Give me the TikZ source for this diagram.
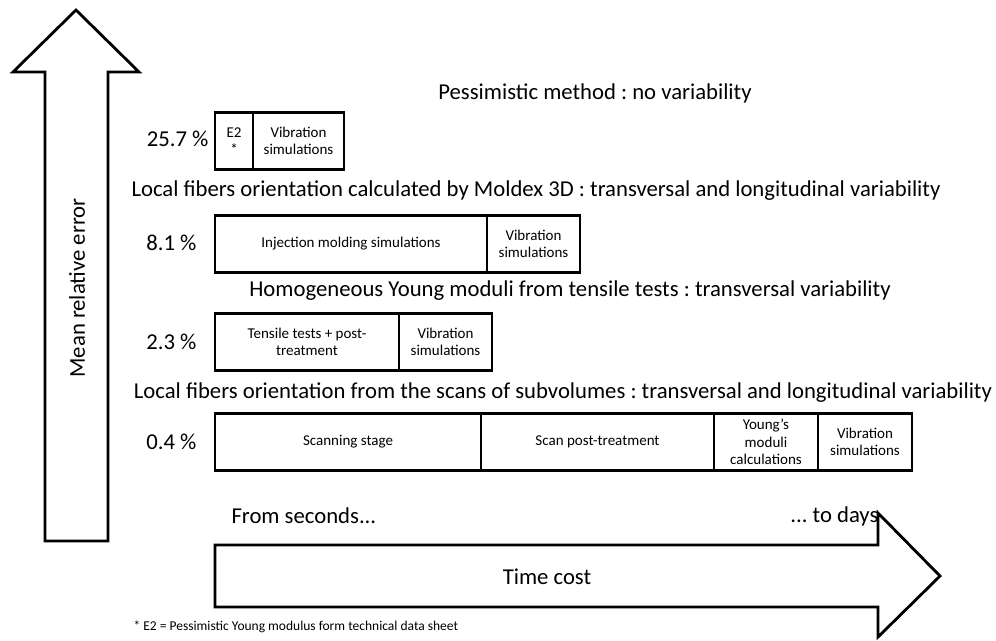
\documentclass[tikz,border=0pt]{standalone}
\usepackage{fontspec}
\setmainfont{Carlito}
\frenchspacing

\tikzset{
  bigarrow/.style={draw, line width=2.8pt, line join=miter, fill=white},
  stage/.style={draw, line width=2.6pt, outer sep=0pt, inner sep=1pt,
    minimum height=57pt, align=center, anchor=west,
    font=\fontsize{15}{17.5}\selectfont},
  title/.style={font=\fontsize{22.7}{26}\selectfont},
  pct/.style={font=\fontsize{22.7}{26}\selectfont, anchor=east}
}

\begin{document}
\begin{tikzpicture}[x=1pt, y=-1pt]
        \useasboundingbox (0,0) rectangle (996,640);

        % Vertical arrow: mean relative error
        \draw[bigarrow] (45,541) -- (45,72) -- (13,72) -- (76,10) -- (139,72)
            -- (108,72) -- (108,541) -- cycle;
        \node[rotate=90, title] (err) at (77,288) {Mean relative error};

        % Horizontal arrow: time cost
        \draw[bigarrow] (215,545) -- (878,545) -- (878,513) -- (940,576) -- (878,637)
            -- (878,607) -- (215,607) -- cycle;
        \node[title] (cost) at (547,577) {Time cost};
        \node[title, anchor=west] (fast) at (228,516) {From seconds...};
        \node[title, anchor=east] (slow) at (882,516) {... to days};

        % Pessimistic method
        \node[title] (t1) at (595,93) {Pessimistic method : no variability};
        \node[pct] (p1) at (212,139) {25.7 \%};
        \node[stage, minimum width=38pt] (e2) at (215,141) {E2\\*};
        \node[stage, minimum width=91pt] (vib1) at (e2.east) {Vibration\\simulations};

        % Moldex 3D orientation
        \node[title] (t2) at (536,191) {Local fibers orientation calculated by Moldex 3D : transversal and longitudinal variability};
        \node[pct] (p2) at (200,243) {8.1 \%};
        \node[stage, minimum width=272pt] (inj) at (215,244) {Injection molding simulations};
        \node[stage, minimum width=93pt] (vib2) at (inj.east) {Vibration\\simulations};

        % Tensile tests
        \node[title] (t3) at (570,291) {Homogeneous Young moduli from tensile tests : transversal variability};
        \node[pct] (p3) at (200,342) {2.3 \%};
        \node[stage, minimum width=184pt] (tens) at (215,342) {Tensile tests + post-\\treatment};
        \node[stage, minimum width=93pt] (vib3) at (tens.east) {Vibration\\simulations};

        % Scans of subvolumes
        \node[title] (t4) at (563,393) {Local fibers orientation from the scans of subvolumes : transversal and longitudinal variability};
        \node[pct] (p4) at (200,442) {0.4 \%};
        \node[stage, minimum width=266pt] (scan) at (215,442) {Scanning stage};
        \node[stage, minimum width=233pt] (post) at (scan.east) {Scan post-treatment};
        \node[stage, minimum width=104pt] (young) at (post.east) {Young's\\moduli\\calculations};
        \node[stage, minimum width=94pt] (vib4) at (young.east) {Vibration\\simulations};

        % Footnote
        \node[anchor=west, font=\fontsize{13.5}{16}\selectfont] (note) at (130,627) {* E2 = Pessimistic Young modulus form technical data sheet};
    \end{tikzpicture}
\end{document}
